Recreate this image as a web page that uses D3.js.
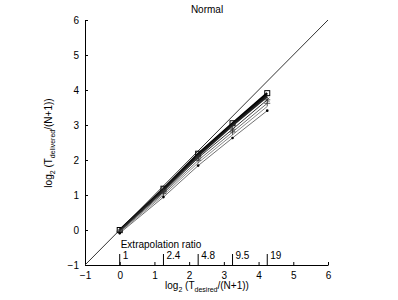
<!DOCTYPE html>
<html>
<head>
<meta charset="utf-8">
<script src="https://cdn.jsdelivr.net/npm/d3@7"></script>
<style>
  body { margin: 0; background: #fff; }
  text { font-family: "Liberation Sans", Arial, sans-serif; font-size: 10px; fill: #000; }
</style>
</head>
<body>
<svg width="398" height="300"></svg>
<script>
// desired (x) positions: log2 of extrapolation ratio
const ratioLabels = ['1', '2.4', '4.8', '9.5', '19'];
const xDesired = [0, 1.26, 2.26, 3.25, 4.25];

// delivered values per run
const seriesNames = ['a', 'b', 'c', 'd', 'e', 'f', 'g'];
const seriesValues = [
  [0.00, 1.18, 2.18, 3.05, 3.91],
  [-0.01, 1.16, 2.15, 3.02, 3.86],
  [-0.02, 1.13, 2.11, 2.98, 3.81],
  [-0.03, 1.09, 2.06, 2.88, 3.72],
  [-0.04, 1.05, 1.99, 2.80, 3.62],
  [-0.06, 1.00, 1.92, 2.72, 3.53],
  [-0.09, 0.94, 1.84, 2.63, 3.41]
];
const seriesMarkers = ['square', 'none', 'none', 'star', 'plus', 'none', 'dot'];
const seriesWidths = [2.2, 2.0, 1.6, 1.0, 0.8, 0.7, 0.7];
const seriesColors = ['#000', '#111', '#222', '#333', '#444', '#555', '#333'];

const axisTicks = [-1, 0, 1, 2, 3, 4, 5, 6];

const svg = d3.select('svg');
const x = d3.scaleLinear().domain([-1, 6]).range([85, 328]);
const y = d3.scaleLinear().domain([-1, 6]).range([265, 20]);

// axes (ticks inward, no box)
const xAxis = svg.append('g').attr('transform', `translate(0,${y(-1)})`)
  .call(d3.axisBottom(x).tickValues(axisTicks).tickSize(-3).tickSizeOuter(0).tickPadding(7).tickFormat(d => d < 0 ? '\u2212' + (-d) : d));
const yAxis = svg.append('g').attr('transform', `translate(${x(-1)},0)`)
  .call(d3.axisLeft(y).tickValues(axisTicks).tickSize(-3).tickSizeOuter(0).tickPadding(6).tickFormat(d => d < 0 ? '\u2212' + (-d) : d));
[xAxis, yAxis].forEach(g => {
  g.select('.domain').attr('stroke', '#000').attr('stroke-width', 1);
  g.selectAll('.tick line').attr('stroke', '#000');
  g.selectAll('.tick text').style('font-size', '10px').attr('fill', '#000');
});

// identity line
svg.append('line')
  .attr('x1', x(-1)).attr('y1', y(-1)).attr('x2', x(6)).attr('y2', y(6))
  .attr('stroke', '#333').attr('stroke-width', 1);

// extrapolation ratio ticks
const ratioG = svg.append('g');
ratioG.selectAll('line').data(xDesired).enter().append('line')
  .attr('x1', d => x(d)).attr('x2', d => x(d))
  .attr('y1', y(-1) - 11).attr('y2', y(-1))
  .attr('stroke', '#000').attr('stroke-width', 1);
ratioG.selectAll('text').data(xDesired).enter().append('text')
  .attr('x', d => x(d) + 3).attr('y', y(-1) - 6)
  .text((d, i) => ratioLabels[i]);
svg.append('text').attr('x', 161).attr('y', 248).attr('text-anchor', 'middle')
  .text('Extrapolation ratio');

// series
const line = d3.line().x((d, i) => x(xDesired[i])).y(d => y(d));
seriesValues.forEach((vals, s) => {
  svg.append('path').attr('d', line(vals)).attr('fill', 'none')
    .attr('stroke', seriesColors[s]).attr('stroke-width', seriesWidths[s]);
  const mk = seriesMarkers[s];
  const g = svg.append('g');
  vals.forEach((v, i) => {
    const px = x(xDesired[i]), py = y(v);
    if (mk === 'square') {
      g.append('rect').attr('x', px - 2.5).attr('y', py - 2.5).attr('width', 5).attr('height', 5)
        .attr('fill', 'none').attr('stroke', '#000').attr('stroke-width', 1);
    } else if (mk === 'star' || mk === 'plus') {
      const path = d3.path();
      path.moveTo(px - 3, py); path.lineTo(px + 3, py);
      path.moveTo(px, py - 3); path.lineTo(px, py + 3);
      if (mk === 'star') {
        path.moveTo(px - 2.2, py - 2.2); path.lineTo(px + 2.2, py + 2.2);
        path.moveTo(px - 2.2, py + 2.2); path.lineTo(px + 2.2, py - 2.2);
      }
      g.append('path').attr('d', path.toString()).attr('stroke', '#333').attr('stroke-width', 0.8).attr('fill', 'none');
    } else if (mk === 'dot') {
      g.append('circle').attr('cx', px).attr('cy', py).attr('r', 1.3).attr('fill', '#000');
    }
  });
});

// title and labels
svg.append('text').attr('x', 207).attr('y', 13).attr('text-anchor', 'middle').text('Normal');

const xl = svg.append('text').attr('x', 207).attr('y', 289).attr('text-anchor', 'middle');
xl.append('tspan').text('log');
xl.append('tspan').attr('dy', 3).style('font-size', '7px').text('2');
xl.append('tspan').attr('dy', -3).text(' (T');
xl.append('tspan').attr('dy', 3).style('font-size', '7px').text('desired');
xl.append('tspan').attr('dy', -3).text('/(N+1))');

const yl = svg.append('text').attr('transform', `translate(52,143) rotate(-90)`).attr('text-anchor', 'middle');
yl.append('tspan').text('log');
yl.append('tspan').attr('dy', 3).style('font-size', '7px').text('2');
yl.append('tspan').attr('dy', -3).text(' (T');
yl.append('tspan').attr('dy', 3).style('font-size', '7px').text('delivered');
yl.append('tspan').attr('dy', -3).text('/(N+1))');
</script>
</body>
</html>
